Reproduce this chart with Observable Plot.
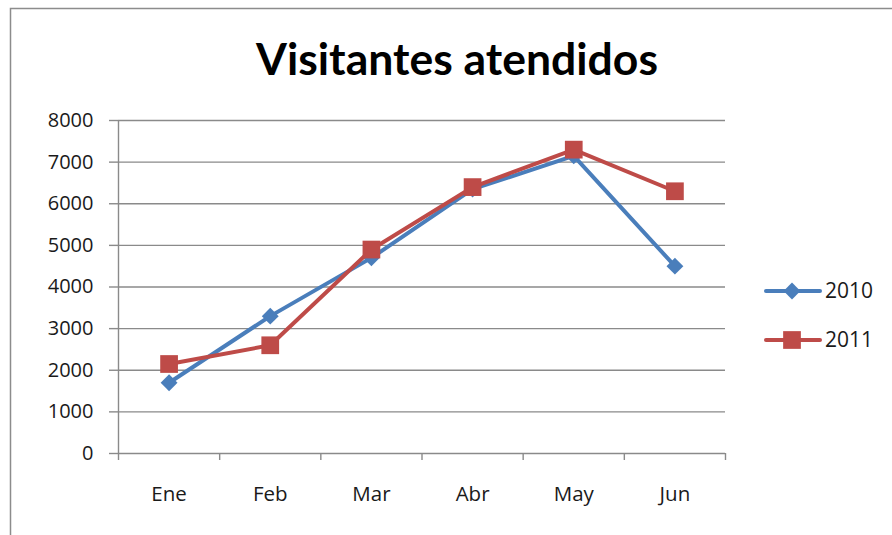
<!DOCTYPE html>
<html>
<head>
<meta charset="utf-8">
<script src="https://cdn.jsdelivr.net/npm/d3@7"></script>
<script src="https://cdn.jsdelivr.net/npm/@observablehq/plot@0.6"></script>
<style>
  html, body { margin: 0; padding: 0; background: #fff; }
  #chart { width: 892px; height: 535px; overflow: hidden; }
</style>
</head>
<body>
<div id="chart"></div>
<script>
const months = ["Ene", "Feb", "Mar", "Abr", "May", "Jun"];
const series = ["2010", "2011"];
const values2010 = [1700, 3300, 4700, 6350, 7150, 4500];
const values2011 = [2150, 2600, 4900, 6400, 7300, 6300];
const yTicks = [0, 1000, 2000, 3000, 4000, 5000, 6000, 7000, 8000];
const title = "Visitantes atendidos";

const colors = {"2010": "#4a7ebb", "2011": "#be4b48"};
const font = "'Open Sans', Lato, sans-serif";
const titleFont = "Lato, 'Open Sans', sans-serif";

const rows = months.flatMap((m, i) => [
  {i, month: m, serie: "2010", value: values2010[i]},
  {i, month: m, serie: "2011", value: values2011[i]}
]);
const s2010 = rows.filter(d => d.serie === "2010");
const s2011 = rows.filter(d => d.serie === "2011");

const grid = "#8a8a8a";

const chart = Plot.plot({
  width: 892,
  height: 535,
  marginTop: 120,
  marginBottom: 82,
  marginLeft: 118,
  marginRight: 167,
  style: {fontFamily: font, background: "#fff", color: "#1a1a1a"},
  x: {type: "linear", domain: [0, months.length], axis: null},
  y: {domain: [0, 8000], axis: null},
  marks: [
    Plot.gridY(yTicks, {stroke: grid, strokeOpacity: 1, strokeWidth: 1.4}),
    Plot.ruleX([0], {stroke: grid, strokeWidth: 1.4}),
    Plot.axisY(yTicks, {label: null, tickSize: 9, tickPadding: 16, fontSize: 20, stroke: grid, strokeWidth: 1.4, tickFormat: d => String(d), fill: "#1a1a1a"}),
    Plot.axisX(d3.range(months.length + 1), {label: null, tickSize: 7, tickFormat: () => "", stroke: grid, strokeWidth: 1.4}),
    Plot.text(months, {x: (d, i) => i + 0.5, text: d => d, frameAnchor: "bottom", lineAnchor: "middle", dy: 41, fontSize: 20.5, fill: "#1a1a1a"}),
    Plot.line(s2010, {x: d => d.i + 0.5, y: "value", stroke: colors["2010"], strokeWidth: 4}),
    Plot.dot(s2010, {x: d => d.i + 0.5, y: "value", symbol: "diamond2", r: 7.6, fill: colors["2010"], stroke: "none"}),
    Plot.line(s2011, {x: d => d.i + 0.5, y: "value", stroke: colors["2011"], strokeWidth: 4}),
    Plot.dot(s2011, {x: d => d.i + 0.5, y: "value", symbol: "square", r: 10, fill: colors["2011"], stroke: "none"}),
    Plot.text([title], {frameAnchor: "top", lineAnchor: "middle", dx: 35, dy: -60, fontSize: 44.5, fontWeight: "bold", fontFamily: titleFont, fill: "#000"})
  ]
});

const svg = d3.select(chart);
// outer chart-area border
svg.insert("rect", ":first-child")
  .attr("x", 10.5).attr("y", 8.5).attr("width", 1000).attr("height", 1000)
  .attr("fill", "#fff").attr("stroke", "#8c8c8c").attr("stroke-width", 1.5);

// legend
const lg = svg.append("g").attr("font-family", font).attr("text-anchor", "start");
series.forEach((s, k) => {
  const y = 291 + k * 49;
  lg.append("line").attr("x1", 766).attr("x2", 820).attr("y1", y).attr("y2", y)
    .attr("stroke", colors[s]).attr("stroke-width", 4).attr("stroke-linecap", "round");
  if (s === "2010") {
    lg.append("path").attr("d", d3.symbol(d3.symbolDiamond2, Math.PI * 7.6 * 7.6)())
      .attr("transform", `translate(792,${y})`).attr("fill", colors[s]);
  } else {
    lg.append("path").attr("d", d3.symbol(d3.symbolSquare, Math.PI * 10 * 10)())
      .attr("transform", `translate(792,${y})`).attr("fill", colors[s]);
  }
  lg.append("text").attr("x", 825).attr("y", y).attr("dy", "0.35em")
    .attr("font-size", 21).attr("fill", "#1a1a1a").text(s);
});

document.getElementById("chart").appendChild(chart);
</script>
</body>
</html>
